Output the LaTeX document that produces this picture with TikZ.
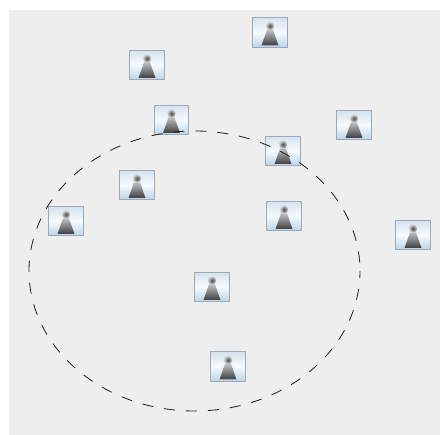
\documentclass[tikz,border=0pt]{standalone}
\usetikzlibrary{calc}
\definecolor{panelgray}{HTML}{EEEEEE}
\definecolor{iconedge}{HTML}{9AA9BC}
\definecolor{skytop}{HTML}{D6E2EE}
\definecolor{skymid}{HTML}{F6FAFD}
\definecolor{skylow}{HTML}{BDD3E8}
\definecolor{roaddark}{HTML}{3E3E3E}
\definecolor{roadlight}{HTML}{BCC0C4}
\definecolor{balledge}{HTML}{D8DCE0}
\definecolor{ballcore}{HTML}{4A4A4A}
\tikzset{
  x=1pt,y=-1pt,
  picicon/.style={rectangle,minimum width=34.5pt,minimum height=29.5pt,inner sep=0pt,draw=iconedge,line width=1.2pt,
    top color=skytop,bottom color=skylow,middle color=skymid},
  outlinecurve/.style={draw=black!85,line width=0.85pt,dash pattern=on 11pt off 11pt,dash phase=4pt}
}
\newcommand{\picicon}[3]{%
  \node[picicon] (#1) at (#2,#3) {};
  \shade[top color=roadlight,bottom color=roaddark,draw=none]
    ($(#1.center)+(-3,-2.5)$) -- ($(#1.center)+(3,-2.5)$) -- ($(#1.center)+(8.5,13)$) -- ($(#1.center)+(-8.5,13)$) -- cycle;
  \shade[inner color=ballcore,outer color=balledge,draw=none] ($(#1.center)+(0,-6.5)$) circle (4.3pt);
}
\begin{document}
\begin{tikzpicture}
\useasboundingbox (0,0) rectangle (440,435);
\fill[white] (0,0) rectangle (440,435);
\fill[panelgray] (9,10) rectangle (440,435);
\picicon{a}{270}{32.5}
\picicon{b}{147}{65}
\picicon{c}{171.5}{120}
\picicon{d}{354}{125}
\picicon{e}{283}{151}
\picicon{f}{137}{185}
\picicon{g}{66}{221}
\picicon{h}{284}{216}
\picicon{i}{413}{235}
\picicon{j}{212}{287}
\picicon{k}{228}{366.5}
\node[draw=none,inner sep=0pt] (centre) at (194.5,271) {};
\draw[outlinecurve] (centre) ellipse [x radius=165.5,y radius=140];
\end{tikzpicture}
\end{document}
